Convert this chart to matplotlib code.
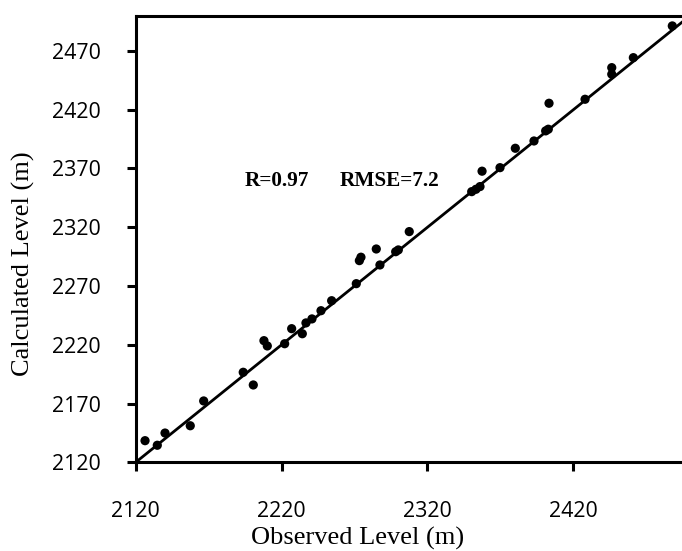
import matplotlib
matplotlib.use("Agg")
import matplotlib.pyplot as plt

observed = [2126.4, 2134.8, 2140.1, 2157.4, 2166.6, 2193.7, 2200.6, 2207.9, 2210.2, 2222.1,
            2226.9, 2234.2, 2236.7, 2240.8, 2247.0, 2254.3, 2271.2, 2273.3, 2274.4, 2284.9,
            2287.4, 2298.2, 2300.0, 2307.5, 2350.3, 2353.2, 2356.0, 2357.4, 2369.7, 2380.2,
            2393.0, 2401.0, 2402.8, 2403.3, 2428.0, 2446.3, 2446.3, 2461.1, 2487.8]
calculated = [2138.4, 2134.5, 2144.9, 2151.1, 2172.2, 2196.6, 2185.8, 2223.5, 2219.0, 2220.9,
              2233.7, 2229.4, 2238.6, 2242.0, 2249.0, 2257.5, 2272.0, 2291.6, 2294.5, 2301.5,
              2287.9, 2299.2, 2300.7, 2316.3, 2350.3, 2352.3, 2354.6, 2367.7, 2370.7, 2387.2,
              2393.4, 2402.0, 2403.4, 2425.5, 2428.9, 2455.8, 2450.2, 2464.3, 2491.3]
x_ticks = [2120, 2220, 2320, 2420]
y_ticks = [2120, 2170, 2220, 2270, 2320, 2370, 2420, 2470]
line_ends = [2120, 2500]

fig = plt.figure(figsize=(6.82, 5.51), dpi=100)
ax = fig.add_axes([135.7/682, (551-462.3)/551, 554.4/682, 446.6/551])

ax.plot(line_ends, line_ends, color='black', lw=2, solid_capstyle='butt', zorder=2)
ax.scatter(observed, calculated, s=44, color='black', edgecolors='none', zorder=3)

ax.set_xlim(2120, 2500)
ax.set_ylim(2120, 2500)
ax.set_xticks(x_ticks)
ax.set_yticks(y_ticks)
for sp in ax.spines.values():
    sp.set_linewidth(2.2)
ax.tick_params(direction='out', length=6.5, width=2.2, labelsize=15.4)
ax.tick_params(axis='x', pad=21.5)
ax.tick_params(axis='y', pad=18.5)
for lab in ax.get_xticklabels() + ax.get_yticklabels():
    lab.set_fontfamily('Open Sans')

ax.set_xlabel('Observed Level (m)', fontfamily='Liberation Serif', fontsize=19, va='center')
ax.xaxis.set_label_coords(0.401, -0.1695)
ax.set_ylabel('Calculated Level (m)', fontfamily='Liberation Serif', fontsize=19, va='center')
ax.yaxis.set_label_coords(-0.203, 0.444)

ax.text(2194.9, 2359, 'R=0.97', fontfamily='Liberation Serif', fontweight='bold',
        fontsize=15.3, va='center', ha='left')
ax.text(2259.5, 2359, 'RMSE=7.2', fontfamily='Liberation Serif', fontweight='bold',
        fontsize=15.3, va='center', ha='left')

fig.savefig('out.png', dpi=100)
